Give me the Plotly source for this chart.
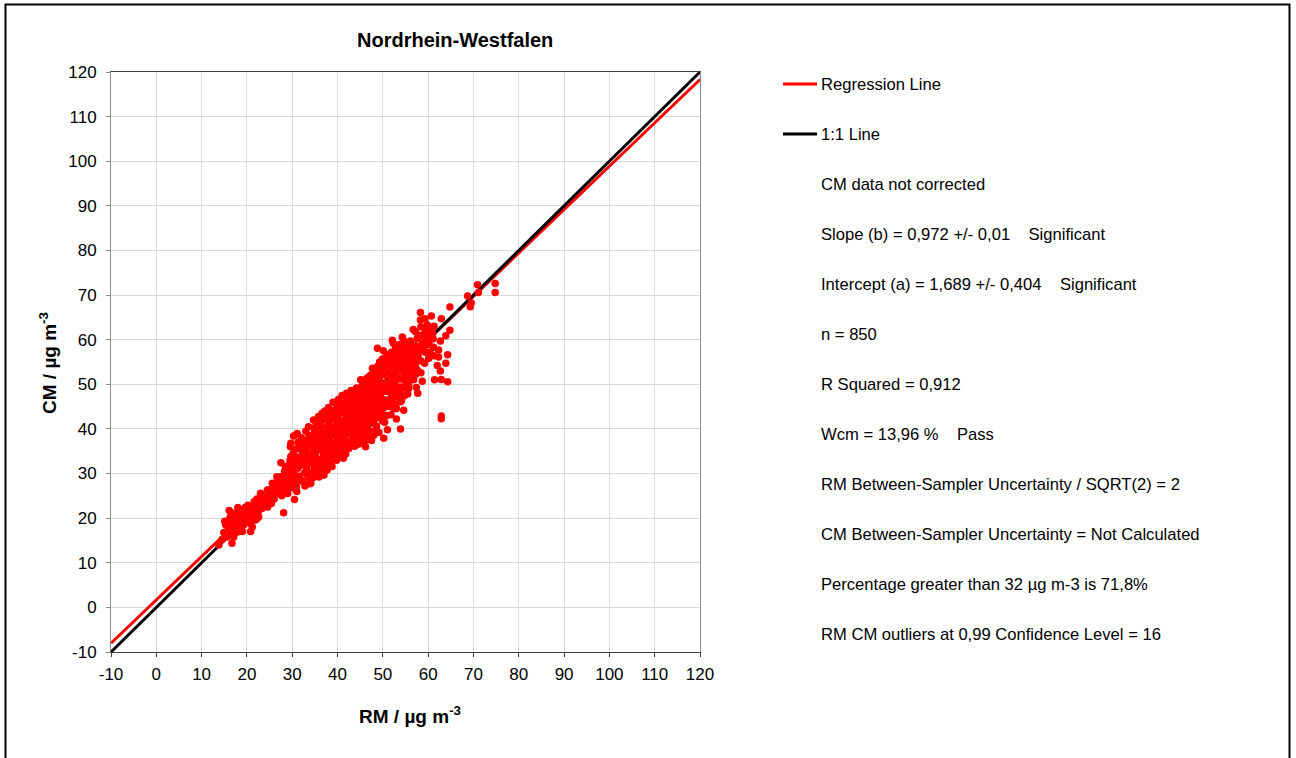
import plotly.graph_objects as go

# ---- data -------------------------------------------------------------
# Paired daily means: reference method (RM) vs candidate method (CM), µg m-3
rm_values = [
    13.8, 14.5, 14.9, 15.3, 15.1, 16.7, 15.8,
    16.1, 16.4, 16.3, 17.2, 16.9, 17.4, 16.6, 17.8, 17.1,
    18.6, 18.2, 18.8, 19.0, 18.4, 19.4, 19.6, 19.2,
    20.8, 21.2, 20.1, 20.5, 21.6, 21.0, 20.3, 21.4, 20.7, 21.8,
    22.0, 22.4, 22.2, 23.0, 22.8, 23.4, 22.6, 23.2, 23.6,
    24.5, 24.1, 24.3, 24.8, 25.6, 25.2, 25.0, 25.4, 25.8, 24.6,
    26.2, 26.5, 26.0, 26.8, 27.5, 27.1, 27.3, 27.7, 26.6, 27.9,
    28.1, 27.5, 28.3, 28.6, 28.2, 28.8, 29.1, 29.4, 29.7, 29.0, 29.3, 28.5, 29.6, 29.8,
    30.5, 30.0, 29.7, 31.1, 30.2, 30.4, 30.7, 30.9, 31.3, 31.5, 31.2, 30.8, 31.6, 31.0, 31.8, 30.3,
    32.0, 32.3, 32.5, 32.2, 32.7, 32.4, 33.0, 33.3, 33.1, 33.5, 33.2, 33.8, 32.8, 33.9, 33.6,
    34.1, 34.4, 34.3, 34.0, 34.6, 34.2, 34.8, 35.5, 35.2, 35.4, 35.0, 35.7, 35.3, 35.9, 34.7, 35.8,
    36.6, 36.2, 36.4, 36.1, 36.8, 36.5, 36.3, 36.8, 37.0, 37.2, 37.4, 37.6, 37.1, 37.5, 37.3, 37.8, 37.7,
    38.0, 38.3, 38.1, 38.5, 38.2, 38.7, 38.4, 38.8, 39.0, 39.3, 39.1, 39.6, 39.2, 39.5, 39.4, 39.8, 38.0,
    40.2, 40.5, 40.1, 40.4, 40.7, 40.3, 40.6, 40.9, 41.0, 41.4, 41.2, 41.6, 41.1, 41.5, 41.8, 41.8, 41.3,
    42.0, 42.2, 42.4, 42.1, 42.6, 42.3, 42.8, 42.5, 43.0, 43.3, 43.1, 43.6, 43.2, 43.7, 43.4, 43.8,
    44.1, 44.2, 44.5, 44.0, 44.6, 44.3, 44.8, 44.7, 45.1, 45.4, 45.2, 45.7, 45.3, 45.8, 45.5, 45.9, 45.6,
    46.2, 46.6, 46.4, 46.1, 46.7, 46.3, 46.8, 46.5, 47.0, 47.7, 47.3, 47.1, 47.6, 47.2, 47.8, 47.4, 47.9, 47.5,
    48.8, 48.2, 48.5, 48.1, 48.7, 48.3, 48.9, 48.4, 48.6, 48.0, 49.1, 49.3, 49.5, 49.2, 49.7, 49.4, 49.8, 49.6, 49.9,
    50.1, 50.4, 50.2, 50.6, 50.3, 50.8, 50.5, 50.9, 50.7, 50.2, 50.8, 51.0, 51.3, 51.6, 51.2, 51.7, 51.4, 51.9, 51.5, 51.8,
    52.1, 52.3, 52.4, 52.8, 53.2, 52.6, 52.2, 52.9, 52.5, 53.0, 53.0, 53.5, 53.4, 53.8, 53.6,
    54.3, 54.6, 54.6, 54.3, 54.1, 54.6, 53.9, 53.9, 55.4, 55.7, 55.0, 55.5, 55.7, 54.0, 54.8, 55.2, 55.8, 55.1,
    56.1, 56.1, 56.8, 56.5, 57.2, 57.2, 57.2, 57.4, 57.7, 57.6, 58.0, 58.3, 58.3, 58.7, 58.7, 56.3, 57.0, 57.8, 56.7,
    59.0, 59.4, 59.4, 59.6, 59.8, 60.1, 60.3, 60.7, 61.0, 61.2, 61.4,
    62.0, 62.3, 62.3, 62.7, 62.7, 62.9, 62.9, 62.9, 62.9, 63.9, 63.9, 64.3, 64.3, 64.8, 64.8,
    68.7, 69.5, 69.3, 71.1, 70.9, 74.8, 74.8,
    # days inside the dense core of the cloud
    22.5, 23.8, 24.9, 25.9, 26.3, 27.0, 27.6, 28.0, 28.4, 28.9, 29.2, 29.5, 29.9,
    30.1, 30.6, 30.3, 30.8, 31.4, 31.7, 31.9, 32.1, 32.6, 32.9, 33.3, 33.7, 33.4, 33.0,
    34.5, 34.9, 34.4, 34.8, 34.3, 34.9, 35.6, 35.9, 35.6, 35.1, 35.8, 35.4, 36.0,
    36.9, 36.7, 36.9, 36.6, 36.9, 36.7, 36.9, 37.9, 37.9, 37.8, 37.9, 37.6, 37.9,
    38.6, 38.9, 38.6, 38.9, 38.6, 38.9, 38.7, 39.9, 39.8, 39.9, 39.8, 39.9, 39.8, 39.9,
    40.9, 40.8, 40.9, 40.8, 40.9, 40.8, 40.0, 41.9, 41.8, 41.9, 41.8, 41.9, 41.6, 41.9,
    42.8, 42.9, 42.8, 42.9, 42.9, 42.7, 43.9, 43.8, 43.9, 43.8, 43.9, 43.9, 43.6,
    44.9, 44.8, 44.9, 44.8, 44.9, 44.9, 44.5, 45.9, 45.9, 45.9, 45.9, 45.9, 45.9, 45.9, 45.1,
    46.9, 46.9, 46.9, 46.9, 46.9, 46.9, 46.9, 46.4, 47.9, 47.9, 47.9, 47.9, 47.9, 47.9, 47.9, 47.2,
    48.9, 48.9, 48.9, 48.9, 48.9, 48.9, 48.9, 48.7, 49.9, 49.9, 49.9, 49.9, 49.9, 49.9, 49.9, 49.9,
    50.9, 50.9, 50.9, 50.9, 51.9, 51.9, 51.9, 51.9, 51.9, 51.9, 51.9,
    52.8, 52.8, 52.8, 52.8, 52.8, 52.8, 52.8, 52.8, 53.8, 53.8, 53.8, 53.8, 53.8, 53.8,
    54.7, 54.7, 54.7, 54.7, 54.7, 54.7, 54.7, 55.6, 55.6, 55.6, 55.6,
    56.5, 56.6, 56.4, 56.6, 57.6, 57.5, 57.5, 58.4, 58.5, 58.4, 58.4, 58.4,
    59.3, 59.2, 59.3, 59.2, 59.2, 60.2, 60.2, 60.4, 61.3, 61.1, 61.2,
    15.6, 16.0, 17.6, 17.9, 18.0, 18.7, 19.7, 19.8, 20.2, 20.9, 21.5, 22.0, 22.2, 17.6,
]
cm_values = [
    14.0, 15.2, 16.8, 18.5, 19.3, 14.4, 17.2,
    21.7, 18.8, 20.2, 21.1, 17.5, 19.6, 16.2, 18.3, 15.8,
    21.8, 20.3, 19.0, 17.0, 17.9, 20.9, 22.4, 18.4,
    17.0, 18.0, 21.1, 19.6, 23.7, 22.2, 20.4, 20.6, 18.8, 19.6,
    21.0, 22.6, 24.3, 25.6, 23.4, 22.2, 20.3, 24.6, 23.5,
    26.3, 24.8, 23.2, 25.3, 27.8, 26.4, 24.4, 23.3, 25.6, 22.5,
    27.0, 25.4, 24.3, 28.6, 29.3, 27.6, 26.0, 25.0, 29.3, 28.2,
    21.2, 32.4, 30.5, 29.0, 27.4, 26.1, 31.8, 28.3, 33.8, 25.5, 30.0, 31.5, 36.0, 26.8,
    24.2, 30.8, 36.8, 39.0, 34.5, 32.6, 28.5, 27.0, 37.0, 35.7, 31.2, 33.6, 29.4, 26.0, 33.0, 38.4,
    38.0, 36.3, 34.4, 32.0, 30.2, 28.3, 39.5, 37.4, 35.6, 33.1, 31.0, 29.0, 27.2, 27.7, 40.5,
    27.8, 30.1, 32.2, 34.3, 36.0, 38.2, 40.2, 33.0, 41.6, 39.0, 37.1, 35.3, 31.3, 29.2, 42.0, 42.8,
    43.5, 41.0, 39.2, 37.0, 35.2, 33.3, 31.5, 29.9, 29.7, 44.0, 42.2, 40.3, 38.3, 36.4, 34.3, 32.5, 30.8,
    44.8, 43.0, 41.2, 39.4, 37.5, 35.6, 33.8, 31.6, 46.0, 44.2, 42.4, 40.6, 38.6, 36.7, 34.8, 33.0, 34.0,
    46.6, 44.6, 42.8, 40.8, 39.0, 37.2, 35.3, 33.9, 47.5, 45.6, 43.7, 41.8, 40.0, 38.2, 36.4, 34.4, 33.4,
    48.0, 37.1, 46.2, 44.3, 42.5, 40.6, 38.8, 35.6, 48.6, 46.9, 45.0, 43.3, 41.4, 39.6, 37.8, 36.1,
    38.3, 49.2, 47.4, 45.6, 43.9, 42.0, 40.2, 36.6, 51.0, 49.6, 47.8, 46.0, 44.2, 42.3, 40.5, 38.6, 36.8,
    36.0, 39.8, 51.3, 49.5, 47.7, 45.9, 44.0, 42.2, 41.0, 53.6, 52.1, 50.3, 48.5, 46.6, 44.7, 42.9, 39.4, 37.4,
    58.1, 53.3, 51.5, 49.7, 47.9, 46.0, 44.3, 42.4, 40.6, 38.6, 39.2, 55.0, 53.0, 51.2, 49.3, 47.4, 45.6, 43.6, 41.8,
    57.5, 41.5, 37.9, 55.5, 53.8, 52.0, 50.2, 48.4, 46.5, 44.7, 43.0, 39.8, 56.4, 54.4, 52.6, 50.8, 48.9, 47.0, 45.0, 43.2,
    59.9, 59.2, 50.2, 55.5, 53.2, 57.2, 46.8, 48.4, 44.5, 42.2, 44.6, 51.3, 57.8, 49.4, 47.0,
    60.6, 58.3, 56.6, 55.5, 46.3, 44.2, 46.1, 40.0, 51.7, 49.8, 49.7, 47.8, 49.1, 53.5, 52.2, 54.0, 56.4, 58.0,
    59.7, 53.4, 51.0, 55.5, 54.2, 52.2, 61.8, 49.3, 48.0, 53.2, 58.4, 66.1, 64.4, 59.2, 50.7, 57.6, 58.8, 56.6, 62.3,
    61.1, 59.6, 57.2, 61.8, 63.3, 55.8, 60.3, 65.3, 61.4, 58.3, 51.0,
    54.2, 57.7, 56.1, 59.7, 53.0, 51.1, 64.7, 42.9, 42.3, 60.9, 54.7, 56.6, 50.6, 62.1, 67.3,
    69.8, 68.2, 67.4, 70.6, 72.3, 72.6, 70.6,
    # days inside the dense core of the cloud
    21.5, 24.3, 23.8, 26.6, 25.9, 28.4, 27.0, 28.7, 25.8, 30.8, 27.2, 32.9, 29.2,
    27.8, 29.7, 31.6, 35.5, 33.7, 31.8, 28.3, 35.2, 37.2, 33.0, 29.8, 38.5, 36.3, 31.8,
    29.0, 31.2, 33.1, 35.1, 37.1, 39.2, 40.6, 38.1, 36.2, 34.2, 32.2, 30.2, 42.4,
    30.7, 32.4, 34.3, 36.2, 38.1, 40.1, 42.0, 43.4, 39.4, 37.4, 35.4, 33.4, 31.6,
    32.7, 34.7, 36.6, 38.5, 40.4, 42.3, 44.0, 45.1, 43.3, 41.5, 39.6, 37.7, 35.8, 34.0,
    45.6, 43.7, 41.8, 40.0, 38.1, 36.2, 34.2, 46.6, 44.7, 42.9, 41.0, 39.1, 37.2, 35.5,
    47.1, 45.2, 43.4, 41.5, 39.7, 37.0, 47.9, 46.1, 44.2, 42.4, 40.5, 38.7, 37.2,
    48.4, 46.6, 44.8, 42.9, 41.1, 39.2, 37.5, 50.3, 48.6, 46.8, 45.0, 43.2, 41.3, 39.5, 37.7,
    51.7, 49.0, 47.0, 45.1, 43.2, 41.9, 38.8, 37.5, 52.6, 50.8, 48.9, 47.1, 45.4, 43.5, 41.5, 38.4,
    54.1, 52.3, 50.5, 48.6, 46.8, 45.0, 43.1, 39.5, 55.7, 54.0, 52.2, 50.3, 48.4, 46.6, 44.7, 42.8,
    56.6, 54.7, 49.3, 45.4, 57.2, 55.4, 53.6, 51.7, 49.9, 48.0, 46.1,
    58.3, 56.4, 54.4, 52.5, 50.8, 49.2, 47.3, 45.5, 59.0, 56.8, 55.0, 53.0, 51.2, 48.0,
    59.7, 57.4, 55.5, 53.8, 51.0, 49.2, 47.4, 55.3, 53.0, 50.8, 59.0,
    58.7, 56.5, 54.2, 52.1, 60.3, 57.7, 55.4, 62.9, 61.0, 57.6, 55.3, 52.6,
    64.7, 62.6, 60.4, 58.6, 54.7, 62.0, 58.9, 57.2, 63.0, 60.2, 56.4,
    15.8, 19.3, 20.4, 16.9, 22.4, 20.5, 19.5, 21.4, 22.9, 20.3, 22.2, 23.4, 19.8, 17.8,
]
assert len(rm_values) == len(cm_values)

# Regression result (CM = a + b * RM) and axis extent
slope_b = 0.972
intercept_a = 1.689
axis_range = [-10, 120]
tick_values = list(range(-10, 121, 10))
tick_labels = [str(v) for v in tick_values]

chart_title = "Nordrhein-Westfalen"
line_labels = ["Regression Line", "1:1 Line"]
stats_lines = [
    "CM data not corrected",
    "Slope (b) = 0,972 +/- 0,01\u00a0\u00a0\u00a0\u00a0Significant",
    "Intercept (a) = 1,689 +/- 0,404\u00a0\u00a0\u00a0\u00a0Significant",
    "n = 850",
    "R Squared = 0,912",
    "Wcm = 13,96 %\u00a0\u00a0\u00a0\u00a0Pass",
    "RM Between-Sampler Uncertainty / SQRT(2) = 2",
    "CM Between-Sampler Uncertainty = Not Calculated",
    "Percentage greater than 32 µg m-3 is 71,8%",
    "RM CM outliers at 0,99 Confidence Level = 16",
]

# ---- geometry helpers (pixel -> paper) --------------------------------
W, H = 1296, 758
L, R, T, B = 111, 700, 72, 652  # plot-area box in pixels


def px(xp):
    return (xp - L) / (R - L)


def py(yp):
    return (B - yp) / (B - T)


FONT = "Arial, 'Liberation Sans', sans-serif"
RED = "#ff0000"

fig = go.Figure()

# regression line
reg_x = [axis_range[0], axis_range[1]]
reg_y = [intercept_a + slope_b * v for v in reg_x]
fig.add_trace(go.Scatter(x=reg_x, y=reg_y, mode="lines",
                         line=dict(color=RED, width=3),
                         name=line_labels[0], showlegend=False))

# 1:1 line
fig.add_trace(go.Scatter(x=axis_range, y=axis_range, mode="lines",
                         line=dict(color="#000000", width=3),
                         name=line_labels[1], showlegend=False))

# measurement pairs, drawn over both lines
fig.add_trace(go.Scatter(x=rm_values, y=cm_values, mode="markers",
                         marker=dict(color=RED, size=7.5, line=dict(width=0)),
                         name="RM vs CM", showlegend=False))

axis_common = dict(
    range=axis_range, tickvals=tick_values, ticktext=tick_labels,
    showgrid=True, gridcolor="#d9d9d9", gridwidth=1, zeroline=False,
    ticks="outside", ticklen=4, showline=True, mirror=True,
    tickfont=dict(family=FONT, size=17, color="#000000"),
    fixedrange=True,
)
fig.update_xaxes(**axis_common, linecolor="#404040", tickcolor="#404040",
                 ticklabelstandoff=3)
fig.update_yaxes(**axis_common, linecolor="#8c8c8c", tickcolor="#8c8c8c",
                 ticklabelstandoff=6)

annotations = [
    dict(x=px(455), y=py(40), text=f"<b>{chart_title}</b>",
         font=dict(family=FONT, size=20, color="#000000")),
    dict(x=px(410), y=py(715), text="<b>RM / µg m<sup>-3</sup></b>",
         font=dict(family=FONT, size=19, color="#000000")),
    dict(x=px(48), y=py(363), text="<b>CM / µg m<sup>-3</sup></b>",
         textangle=-90, font=dict(family=FONT, size=19, color="#000000")),
]
for i, label in enumerate(line_labels):
    annotations.append(dict(x=px(819), y=py(84 + 50 * i), text=label,
                            xanchor="left",
                            font=dict(family=FONT, size=16.6, color="#000000")))
for i, line in enumerate(stats_lines):
    annotations.append(dict(x=px(819), y=py(184 + 50 * i), text=line,
                            xanchor="left",
                            font=dict(family=FONT, size=16.6, color="#000000")))
for a in annotations:
    a.setdefault("xanchor", "center")
    a.update(xref="paper", yref="paper", yanchor="middle", showarrow=False)

shapes = [
    # outer chart frame
    dict(type="rect", xref="paper", yref="paper",
         x0=px(5.5), x1=px(1289.5), y0=py(780), y1=py(4.5),
         line=dict(color="#000000", width=2), layer="below"),
]
for i, colour in enumerate([RED, "#000000"]):
    shapes.append(dict(type="line", xref="paper", yref="paper",
                       x0=px(783), x1=px(817), y0=py(84 + 50 * i), y1=py(84 + 50 * i),
                       line=dict(color=colour, width=3)))

fig.update_layout(
    width=W, height=H,
    margin=dict(l=L, r=W - R, t=T, b=H - B, autoexpand=False),
    paper_bgcolor="#ffffff", plot_bgcolor="#ffffff",
    annotations=annotations, shapes=shapes,
    showlegend=False,
)

fig.write_html("out.html", config={"displayModeBar": False})
